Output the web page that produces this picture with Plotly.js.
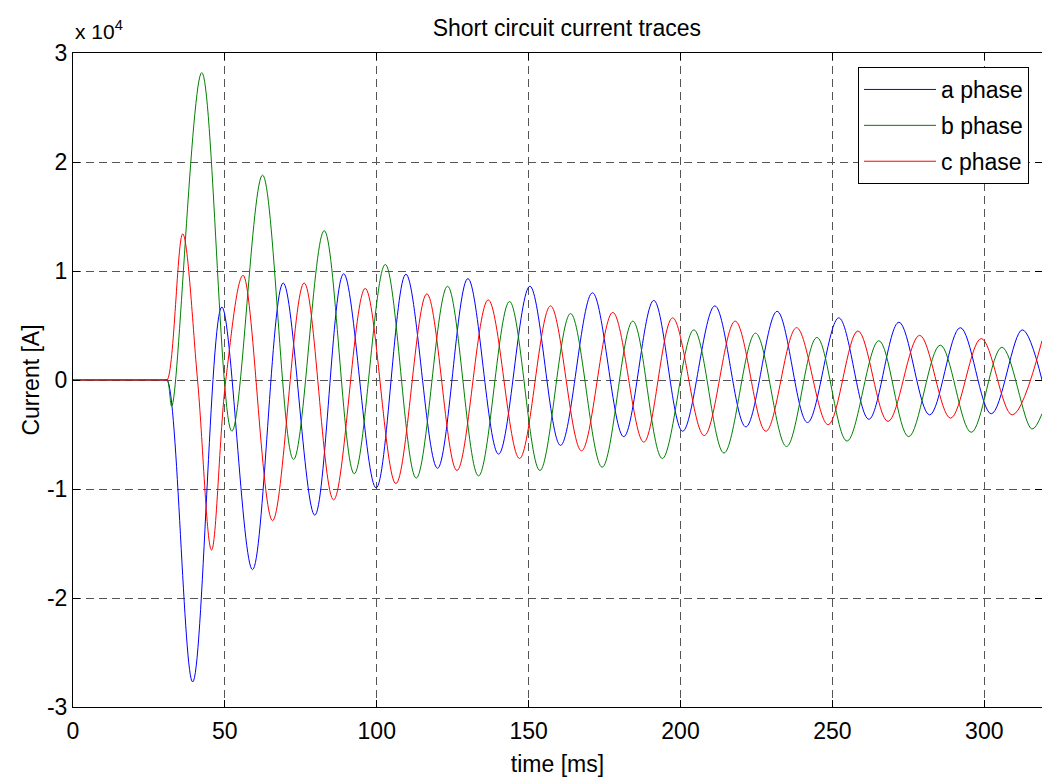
<!DOCTYPE html>
<html>
<head>
<meta charset="utf-8">
<script src="https://cdn.plot.ly/plotly-3.0.1.min.js"></script>
<style>html,body{margin:0;padding:0;background:#fff;}#chart{width:1042px;height:780px;}</style>
</head>
<body>
<div id="chart"></div>
<script>
const aTime = [0, 10, 20, 30, 31, 39.4, 49.0, 59.1, 69.2, 79.6, 89.1, 99.8, 109.6, 120.0, 130.0, 140.1, 150.4, 160.5, 171.0, 181.3, 191.2, 200.7, 211.3, 221.5, 231.8, 241.8, 252.1, 262.0, 271.9, 282.0, 292.1, 302.3, 312.5, 319];
const aCurrent = [0, 0, 0, 0, 0, -27700, 6700, -17400, 8900, -12400, 9750, -9900, 9700, -8100, 9300, -6800, 8600, -6000, 8000, -5200, 7300, -4700, 6800, -4300, 6300, -3900, 5700, -3600, 5300, -3200, 4800, -3100, 4600, 0];

// Phase b (green)
const bTime = [0, 10, 20, 30, 31, 32.5, 42.4, 52.3, 62.4, 72.6, 82.7, 92.6, 102.8, 113.0, 123.3, 133.5, 143.7, 153.7, 163.8, 174.2, 184.3, 194.0, 204.4, 214.3, 224.7, 234.9, 244.9, 254.8, 265.3, 275.1, 285.5, 295.7, 305.8, 315.7, 319];
const bCurrent = [0, 0, 0, 0, 0, -2400, 28200, -4700, 18800, -7300, 13700, -8600, 10600, -9000, 8600, -8800, 7200, -8300, 6100, -8000, 5400, -7200, 4600, -6700, 4300, -6100, 3900, -5600, 3600, -5200, 3200, -4800, 3000, -4500, -3100];

// Phase c (red)
const cTime = [0, 10, 20, 30, 31, 36.1, 41.0, 45.6, 50.3, 56.0, 65.7, 76.1, 85.8, 96.2, 106.3, 116.5, 126.4, 136.7, 147.0, 157.2, 167.4, 177.7, 187.9, 197.4, 207.8, 218.0, 228.1, 238.2, 248.6, 258.4, 268.3, 278.7, 288.9, 299.0, 309.2, 319];
const cCurrent = [0, 0, 0, 0, 0, 13400, 0, -15600, 0, 9600, -12900, 8900, -11000, 8400, -9500, 7900, -8300, 7350, -7200, 6800, -6500, 6200, -5700, 5700, -5100, 5400, -4700, 4800, -4100, 4500, -3800, 4100, -3500, 3800, -3200, 3600];

const seriesNames = ['a phase', 'b phase', 'c phase'];
const xTickVals = [0, 50, 100, 150, 200, 250, 300];
const yTickVals = [-30000, -20000, -10000, 0, 10000, 20000, 30000];
const yTickText = ['-3', '-2', '-1', '0', '1', '2', '3'];

const FONT = 'Liberation Sans, Arial, sans-serif';
const FS = 23;

function trace(x, y, name, color, group) {
  return {
    x: x, y: y, name: name, type: 'scatter', mode: 'lines',
    legendgroup: group,
    line: {color: color, width: 1, shape: 'spline', smoothing: 1}
  };
}

const data = [
  trace(aTime, aCurrent, seriesNames[0], '#0000ff', 'a'),
  trace(bTime, bCurrent, seriesNames[1], '#008000', 'b'),
  trace(cTime, cCurrent, seriesNames[2], '#ff0000', 'c')
];

const axisCommon = {
  showline: true, linecolor: '#000', linewidth: 1, mirror: 'ticks',
  ticks: 'inside', ticklen: 7, tickcolor: '#000', tickwidth: 1,
  showgrid: true, gridcolor: '#555', gridwidth: 1, griddash: '8px,5px',
  zeroline: false,
  tickfont: {family: FONT, size: FS, color: '#000'}
};

const layout = {
  width: 1042, height: 780,
  margin: {l: 73, r: 0, t: 53, b: 73},
  paper_bgcolor: '#fff', plot_bgcolor: '#fff',
  font: {family: FONT, color: '#000'},
  title: {text: 'Short circuit current traces', font: {family: FONT, size: FS, color: '#000'},
          x: 0.544, xanchor: 'center', y: 0.964, yanchor: 'middle'},
  xaxis: Object.assign({}, axisCommon, {
    range: [0, 319], tickmode: 'array', tickvals: xTickVals,
    ticklabelstandoff: 3,
    title: {text: 'time [ms]', font: {family: FONT, size: FS, color: '#000'}, standoff: 13}
  }),
  yaxis: Object.assign({}, axisCommon, {
    range: [-30000, 30000], tickmode: 'array', tickvals: yTickVals, ticktext: yTickText,
    title: {text: 'Current [A]', font: {family: FONT, size: FS, color: '#000'}, standoff: 0}
  }),
  showlegend: true,
  legend: {
    x: 0.9866, xanchor: 'right', y: 0.9786, yanchor: 'top',
    bgcolor: '#fff', bordercolor: '#000', borderwidth: 1,
    font: {family: FONT, size: FS, color: '#000'},
    itemwidth: 72, tracegroupgap: 3
  },
  annotations: [{
    text: 'x 10<sup>4</sup>', xref: 'paper', yref: 'paper', x: 0, y: 1.012,
    xanchor: 'left', yanchor: 'bottom', showarrow: false,
    font: {family: FONT, size: 21, color: '#000'}
  }]
};

Plotly.newPlot('chart', data, layout, {displayModeBar: false, staticPlot: true});
</script>
</body>
</html>
